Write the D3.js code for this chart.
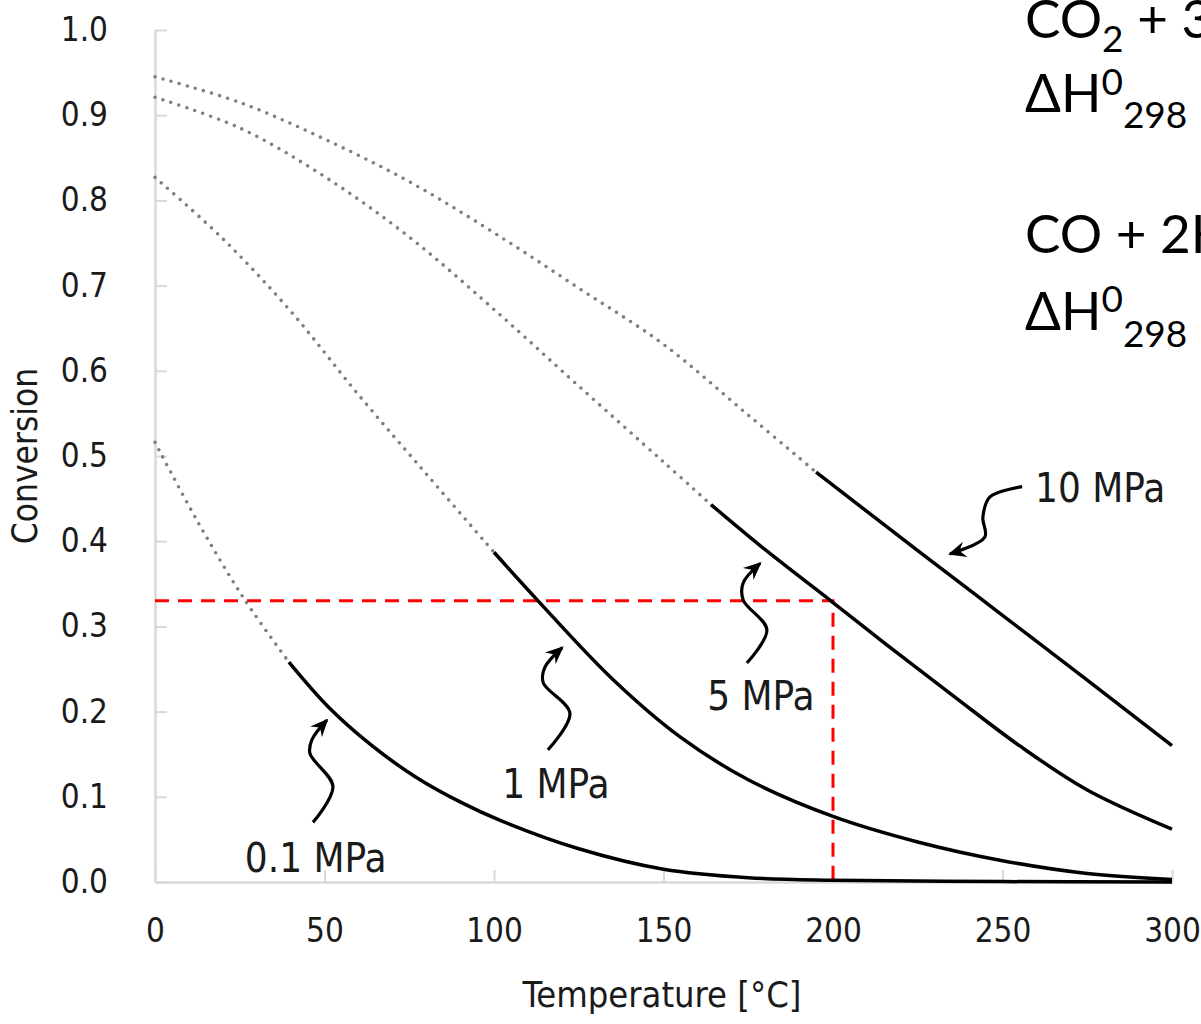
<!DOCTYPE html>
<meta charset="utf-8">
<style>
body { margin: 0; background: #fff; }
svg { display: block; }
.lbl { font-family: "DejaVu Sans Condensed", "DejaVu Sans", sans-serif; font-stretch: condensed; fill: #1a1a1a; }
.eq { font-family: Lato, "Open Sans", sans-serif; fill: #000; }
</style>
<svg width="1201" height="1024"></svg>
<script src="https://cdn.jsdelivr.net/npm/d3@7"></script>
<script>

// equilibrium conversion vs temperature, one array pair per pressure
var temps01 = [0, 13, 26.5, 39.5, 51, 64, 77, 90, 102, 125, 150, 175, 200, 250, 300];
var conv01  = [0.516, 0.420, 0.331, 0.258, 0.206, 0.160, 0.123, 0.094, 0.072, 0.039, 0.015, 0.005, 0.002, 0.0005, 0];

var temps1 = [0, 20, 40, 60, 80, 100, 113, 135, 155, 175, 200, 225, 250, 275, 300];
var conv1  = [0.827, 0.755, 0.670, 0.572, 0.479, 0.387, 0.330, 0.238, 0.170, 0.120, 0.077, 0.047, 0.025, 0.010, 0.003];

var temps5 = [0, 25, 50, 75, 100, 125, 150, 164, 180, 200, 215, 235, 255, 275, 300];
var conv5  = [0.921, 0.885, 0.828, 0.757, 0.672, 0.582, 0.493, 0.443, 0.390, 0.328, 0.281, 0.220, 0.160, 0.108, 0.062];

var temps10 = [0, 25, 50, 75, 100, 125, 150, 175, 195, 225, 250, 275, 300];
var conv10  = [0.945, 0.915, 0.872, 0.822, 0.762, 0.697, 0.631, 0.548, 0.481, 0.389, 0.313, 0.237, 0.160];

var pressures = ["0.1 MPa", "1 MPa", "5 MPa", "10 MPa"];
var solidFrom = [39.5, 100, 164, 195];   // below this the curve is dotted

var xTicks = [0, 50, 100, 150, 200, 250, 300];
var yTicks = [0, 0.1, 0.2, 0.3, 0.4, 0.5, 0.6, 0.7, 0.8, 0.9, 1.0];

// red guide: 5 MPa at 200 C
var markT = 200, markConv = 0.33;

// label anchors (T, conversion) and wavy arrow paths
var labelT    = [26.5, 102.4, 162.9, 259.6];
var labelConv = [0.012, 0.099, 0.202, 0.446];
var arrows = [
  [[46.6, 0.070], [52.5, 0.112], [45.7, 0.151], [46.3, 0.167], [50.7, 0.190]],
  [[115.9, 0.155], [122.4, 0.198], [114.5, 0.234], [115.0, 0.252], [120.1, 0.275]],
  [[174.6, 0.257], [180.5, 0.296], [173.5, 0.331], [173.5, 0.351], [178.5, 0.374]],
  [[255.8, 0.464], [246.3, 0.452], [244.2, 0.428], [244.8, 0.405], [234.5, 0.385]]
];

var series = [
  {t: temps01, c: conv01},
  {t: temps1, c: conv1},
  {t: temps5, c: conv5},
  {t: temps10, c: conv10}
];

var svg = d3.select("svg");

var x = d3.scaleLinear().domain([0, 300]).range([155, 1172]);
var y = d3.scaleLinear().domain([0, 1]).range([882, 30]);

svg.append("defs").append("marker")
    .attr("id", "head")
    .attr("markerUnits", "userSpaceOnUse")
    .attr("viewBox", "-18 -9 21 18")
    .attr("markerWidth", 21)
    .attr("markerHeight", 18)
    .attr("orient", "auto")
  .append("path")
    .attr("d", "M2,0 L-16,-8 L-10,0 L-16,8 Z")
    .attr("fill", "#000");

// axes
var xAxis = svg.append("g")
    .attr("transform", "translate(0," + y(0) + ")")
    .call(d3.axisBottom(x).tickValues(xTicks).tickSize(-12).tickSizeOuter(0).tickPadding(37));
var yAxis = svg.append("g")
    .attr("transform", "translate(" + x(0) + ",0)")
    .call(d3.axisLeft(y).tickValues(yTicks).tickSize(-12).tickSizeOuter(0).tickPadding(47)
      .tickFormat(d3.format(".1f")));

[xAxis, yAxis].forEach(function(g) {
  g.attr("font-family", null).attr("font-size", null);
  g.select(".domain").attr("stroke", "#d9d9d9").attr("stroke-width", 2.5);
  g.selectAll(".tick line").attr("stroke", "#d9d9d9").attr("stroke-width", 2);
  g.selectAll(".tick text").attr("class", "lbl").attr("font-size", 33).attr("fill", "#1a1a1a");
});

svg.append("text").attr("class", "lbl")
    .attr("x", 662).attr("y", 1007)
    .attr("text-anchor", "middle").attr("font-size", 36)
    .text("Temperature [°C]");
svg.append("text").attr("class", "lbl")
    .attr("transform", "translate(37," + y(0.5) + ") rotate(-90)")
    .attr("text-anchor", "middle").attr("font-size", 35)
    .text("Conversion");

// red dashed guide
svg.append("path")
    .attr("d", "M" + x(0) + "," + y(markConv) + "H" + x(markT) + "V" + y(0))
    .attr("fill", "none").attr("stroke", "#ff0000").attr("stroke-width", 3)
    .attr("stroke-dasharray", "14 9");

var line = d3.line()
    .x(function(d) { return x(d[0]); })
    .y(function(d) { return y(d[1]); })
    .curve(d3.curveCatmullRom.alpha(0.5));

series.forEach(function(s, i) {
  var pts = s.t.map(function(t, j) { return [t, s.c[j]]; });
  var dotted = pts.filter(function(p) { return p[0] <= solidFrom[i]; });
  var solid = pts.filter(function(p) { return p[0] >= solidFrom[i]; });
  svg.append("path").attr("d", line(dotted))
      .attr("fill", "none").attr("stroke", "#7f7f7f").attr("stroke-width", 3.6)
      .attr("stroke-linecap", "round").attr("stroke-dasharray", "0 8.4");
  svg.append("path").attr("d", line(solid))
      .attr("fill", "none").attr("stroke", "#000").attr("stroke-width", 3.5);
});

// pressure labels with wavy arrows
var arrowLine = d3.line()
    .x(function(d) { return x(d[0]); })
    .y(function(d) { return y(d[1]); })
    .curve(d3.curveCatmullRom);

arrows.forEach(function(a, i) {
  svg.append("path").attr("d", arrowLine(a))
      .attr("fill", "none").attr("stroke", "#000").attr("stroke-width", 3.2)
      .attr("marker-end", "url(#head)");
  svg.append("text").attr("class", "lbl")
      .attr("x", x(labelT[i])).attr("y", y(labelConv[i]))
      .attr("font-size", 40)
      .text(pressures[i]);
});

// reaction text on the right (runs off the edge, as in the original)
function eqLine(yBase, parts) {
  var t = svg.append("text").attr("class", "eq").attr("x", 1025).attr("y", yBase);
  parts.forEach(function(p) {
    t.append("tspan").attr("font-size", p[1]).attr("dy", p[2]).text(p[0]);
  });
}
eqLine(38, [["CO", 53, 0], ["2", 37, 14], [" + 3H", 53, -14], ["2", 37, 14], [" \u2192 CH", 53, -14], ["3", 37, 14], ["OH + H", 53, -14], ["2", 37, 14], ["O", 53, -14]]);
eqLine(112, [["\u0394H", 53, 0], ["0", 37, -17], ["298", 37, 33], [" = \u221249.5 kJ/mol", 53, -16]]);
eqLine(253, [["CO + 2H", 53, 0], ["2", 37, 14], [" \u2192 CH", 53, -14], ["3", 37, 14], ["OH", 53, -14]]);
eqLine(330, [["\u0394H", 53, 0], ["0", 37, -18], ["298", 37, 35], [" = \u221290.6 kJ/mol", 53, -17]]);

</script>
